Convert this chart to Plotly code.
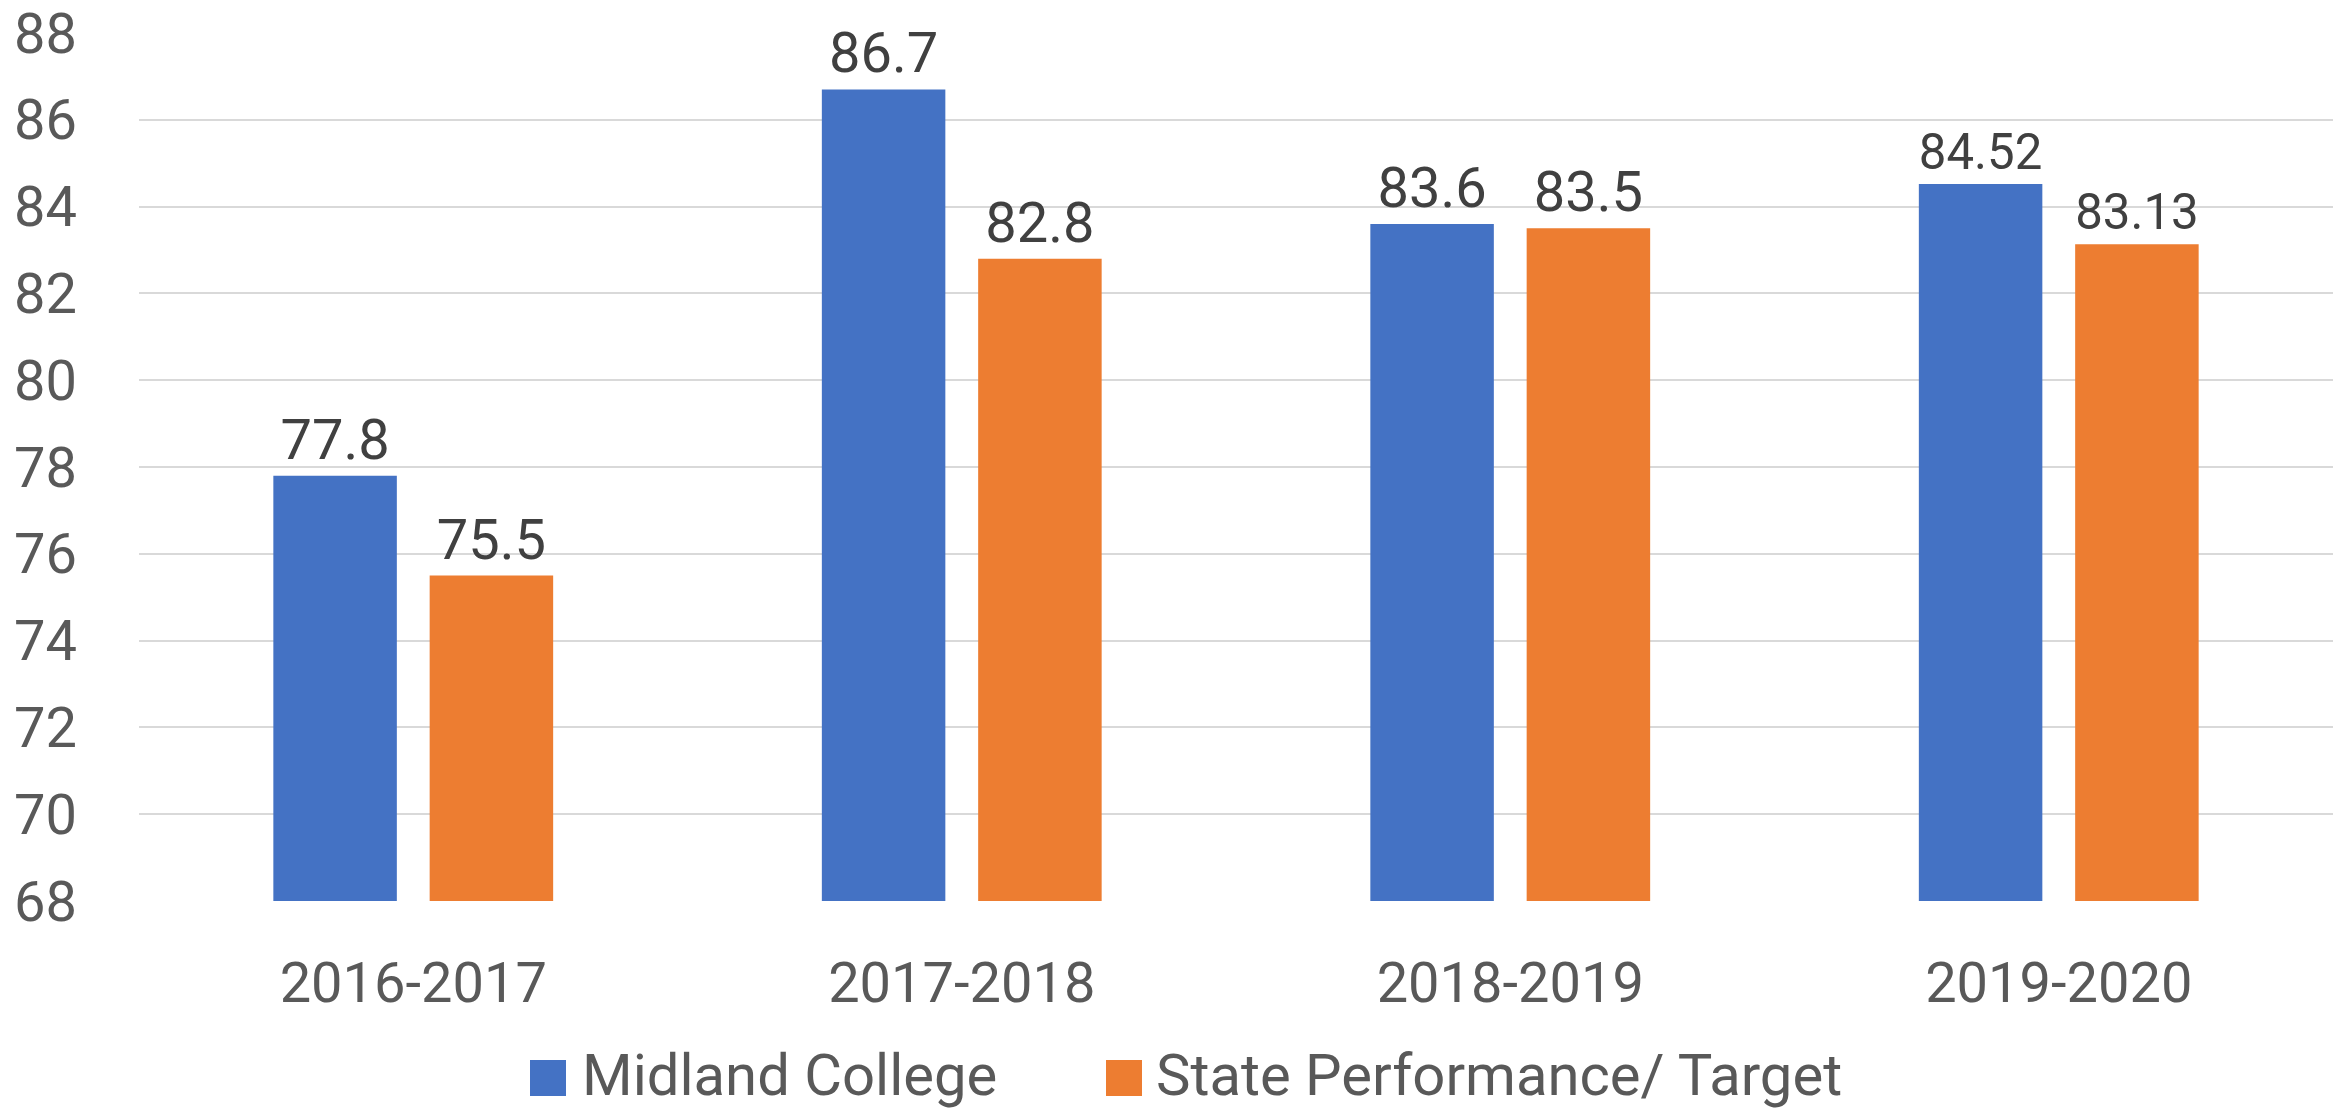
import plotly.graph_objects as go

categories = ["2016-2017", "2017-2018", "2018-2019", "2019-2020"]
series_names = ["Midland College", "State Performance/ Target"]
midland = [77.8, 86.7, 83.6, 84.52]
state = [75.5, 82.8, 83.5, 83.13]
midland_labels = ["77.8", "86.7", "83.6", "84.52"]
state_labels = ["75.5", "82.8", "83.5", "83.13"]
y_ticks = [68, 70, 72, 74, 76, 78, 80, 82, 84, 86, 88]
colors = ["#4472C4", "#ED7D31"]

FONT = "Roboto, Open Sans, Liberation Sans, sans-serif"

fig = go.Figure()
for name, vals, labels, col in [(series_names[0], midland, midland_labels, colors[0]),
                                (series_names[1], state, state_labels, colors[1])]:
    fig.add_trace(go.Bar(
        name=name, x=categories, y=vals, text=labels,
        marker=dict(color=col, line=dict(width=0)),
        textposition="outside", cliponaxis=False,
        textfont=dict(size=56, color="#404040", family=FONT),
        showlegend=False,
    ))

W, H = 2343, 1112
ML, MR, MT, MB = 139, 10, 33, 211
pw, ph = W - ML - MR, H - MT - MB


def px_x(p):
    return (p - ML) / pw


def px_y(p):
    return (H - MB - p) / ph


# Legend drawn manually (Excel-style large square keys)
legend_items = [
    dict(x0=530, x1=566, tx=580, name=series_names[0], color=colors[0]),
    dict(x0=1106, x1=1142, tx=1154, name=series_names[1], color=colors[1]),
]
for it in legend_items:
    fig.add_shape(type="rect", xref="paper", yref="paper",
                  x0=px_x(it["x0"]), x1=px_x(it["x1"]), y0=px_y(1096), y1=px_y(1060),
                  fillcolor=it["color"], line=dict(width=0))
    fig.add_annotation(xref="paper", yref="paper", x=px_x(it["tx"]), y=px_y(1111),
                       xanchor="left", yanchor="bottom", showarrow=False,
                       text=it["name"], font=dict(size=58, color="#595959", family=FONT))

fig.update_layout(
    width=W, height=H,
    margin=dict(l=ML, r=MR, t=MT, b=MB),
    paper_bgcolor="white", plot_bgcolor="white",
    barmode="group", bargap=0.43, bargroupgap=0.21,
    font=dict(family=FONT, color="#595959", size=55),
    showlegend=False,
    xaxis=dict(showgrid=False, showline=False, ticks="", automargin=False,
               tickfont=dict(size=56, color="#595959"), ticklabelstandoff=44),
    yaxis=dict(range=[68, 88], tickvals=y_ticks, showgrid=True, gridcolor="#D9D9D9",
               gridwidth=2, zeroline=False, showline=False, ticks="", automargin=False,
               ticklabeloverflow="allow",
               tickfont=dict(size=56, color="#595959"), ticklabelstandoff=61),
)

fig.write_html("out.html", config={"displayModeBar": False},
               post_script="document.body.style.margin='0';")
